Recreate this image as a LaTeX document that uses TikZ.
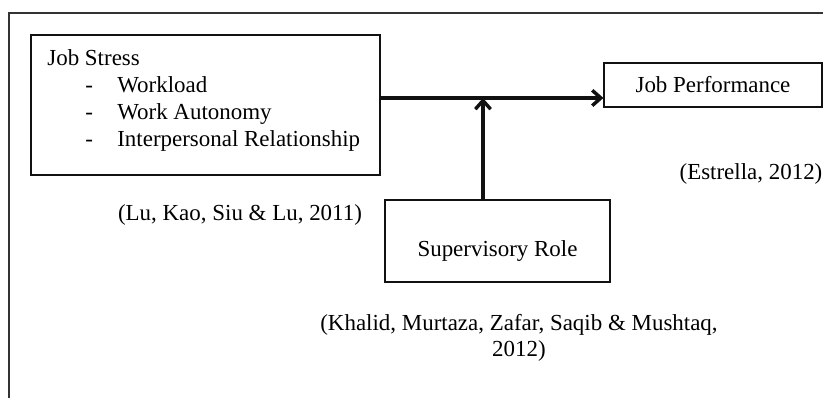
\documentclass[tikz,border=0pt]{standalone}
\usepackage{fontspec}
\setmainfont{Liberation Serif}
\usepackage{xcolor}
\usepackage{tikz}
\usetikzlibrary{arrows.meta,positioning,calc}
\definecolor{cLine}{HTML}{111111}
\definecolor{cFrame}{HTML}{333333}
\newcommand{\stressitem}[1]{\makebox[36.6pt][l]{\hspace*{19.9pt}-}#1}
\tikzset{
  blk/.style   = {rectangle, draw=cLine, line width=0.6pt, align=center,
                  font=\fontsize{12}{14}\selectfont, inner sep=0pt},
  txt/.style   = {font=\fontsize{12}{14}\selectfont, inner sep=0pt, align=center},
  frm/.style   = {draw=cFrame, line width=0.7pt},
  fl/.style    = {-{Straight Barb[length=4.5pt,width=8pt]}, draw=cLine, line width=1.8pt},
}
\begin{document}
\begin{tikzpicture}[x=0.523pt, y=-0.523pt]
  \useasboundingbox (0,0) rectangle (823,398);
  % ---- FRAME ----
  \draw[frm] (9,398) -- (9,13) -- (823,13);

  % ---- BOXES ----
  \node[blk, minimum width=182.5pt, minimum height=73.2pt] (js) at (205.5,105) {};
  \node[txt, anchor=north west, align=left, font=\fontsize{12}{14.2}\selectfont] (jstxt) at (47,49)
    {Job Stress\\ \stressitem{Workload}\\ \stressitem{Work Autonomy}\\ \stressitem{Interpersonal Relationship}};
  \node[blk, minimum width=114pt, minimum height=23pt] (jp) at (713,85) {Job Performance};
  \node[blk, minimum width=117.7pt, minimum height=42.9pt,
        text height=19pt, text depth=2.6pt] (sr) at (497.5,241) {Supervisory Role};

  % ---- CITATIONS ----
  \node[txt] (clu)  at (240,215) {(Lu, Kao, Siu \& Lu, 2011)};
  \node[txt] (ces)  at (751,174) {(Estrella, 2012)};
  \node[txt] (ckh)  at (519,338) {(Khalid, Murtaza, Zafar, Saqib \& Mushtaq,\\[-0.5pt] 2012)};

  % ---- FLOW ----
  \coordinate (jn) at (483,98);
  \draw[fl] (js.east |- jn) -- (jp.west |- jn);
  \draw[fl] (sr.north -| jn) -- (jn);
\end{tikzpicture}
\end{document}
